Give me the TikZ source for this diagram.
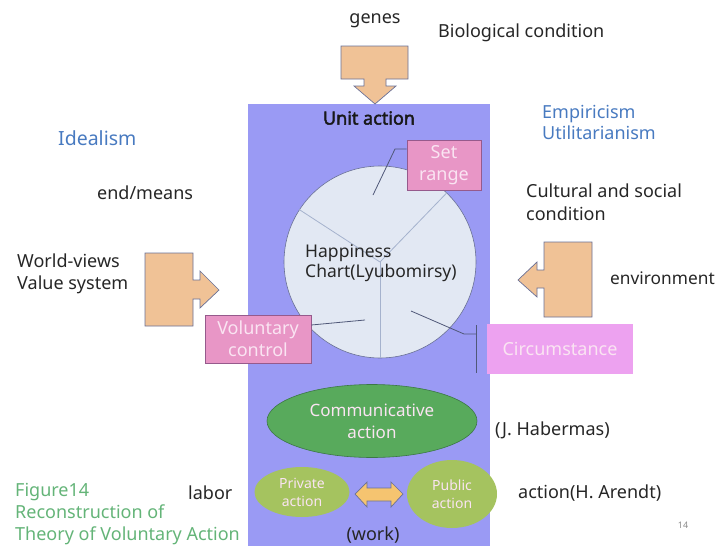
\documentclass[tikz,border=0pt]{standalone}
\usepackage{fontspec}
\setmainfont{Noto Sans}[AutoFakeBold=2.5]
\usetikzlibrary{shapes.geometric}
\definecolor{unitblue}{RGB}{154,154,244}
\definecolor{arrowtan}{RGB}{240,194,150}
\definecolor{arrowedge}{RGB}{105,112,150}
\definecolor{boxpink}{RGB}{232,150,198}
\definecolor{boxpinkedge}{RGB}{150,90,140}
\definecolor{violet}{RGB}{237,162,240}
\definecolor{lighttext}{RGB}{250,228,242}
\definecolor{chartfill}{RGB}{226,232,243}
\definecolor{chartline}{RGB}{165,178,205}
\definecolor{calloutline}{RGB}{80,88,120}
\definecolor{commgreen}{RGB}{88,170,92}
\definecolor{commedge}{RGB}{60,120,70}
\definecolor{olive}{RGB}{165,195,95}
\definecolor{swaparrow}{RGB}{245,196,112}
\definecolor{schoolblue}{RGB}{72,122,192}
\definecolor{figgreen}{RGB}{100,180,120}
\tikzset{
  label/.style={anchor=west, inner sep=0pt, text=black!85, font=\fontsize{18}{22}\selectfont, align=left},
  school/.style={label, text=schoolblue},
  bigarrow/.style={fill=arrowtan, draw=arrowedge, line width=0.7pt},
  pinkbox/.style={rectangle, fill=boxpink, draw=boxpinkedge, line width=0.6pt, text=lighttext, align=center, inner sep=0pt, font=\fontsize{18}{22}\selectfont},
  callout/.style={draw=calloutline, line width=0.8pt},
  divider/.style={draw=chartline, line width=0.8pt},
  smallell/.style={ellipse, fill=olive, inner sep=0pt, text=lighttext, align=center, font=\fontsize{14}{18}\selectfont}
}
\begin{document}
\begin{tikzpicture}[x=1pt, y=-1pt]
\useasboundingbox (0,0) rectangle (718,546);

% unit action frame
\fill[unitblue] (248,104) rectangle (490,546);
\node[font=\bfseries\fontsize{18}{22}\selectfont, inner sep=0pt, text=black!90] (unit) at (369,118) {Unit action};

% biological input from above
\draw[bigarrow] (341,46) -- (408,46) -- (408,79) -- (386,79) -- (386,86) -- (396,86)
  -- (375,104) -- (354,86) -- (364,86) -- (364,79) -- (341,79) -- cycle;
\node[inner sep=0pt, font=\fontsize{18}{22}\selectfont, text=black!85] (genes) at (375,21) {genes};
\node[label] (bio) at (438,33) {Biological condition};

% value-system input from the left
\draw[bigarrow] (145,253) -- (193,253) -- (193,280) -- (200,280) -- (200,271) -- (219,290)
  -- (200,308) -- (200,299) -- (193,299) -- (193,326) -- (145,326) -- cycle;

% environment input from the right
\draw[bigarrow] (592,242) -- (544,242) -- (544,270) -- (537,270) -- (537,262) -- (518,280)
  -- (537,297) -- (537,288) -- (544,288) -- (544,317) -- (592,317) -- cycle;

% happiness chart
\node[circle, minimum size=192pt, fill=chartfill, draw=arrowedge, line width=0.6pt] (chart) at (380,262) {};
\draw[divider] (chart.center) -- (chart.147);
\draw[divider] (chart.center) -- (chart.46);
\draw[divider] (chart.center) -- (chart.270);
\node[anchor=west, inner sep=0pt, align=left, text=black!85, font=\fontsize{17.5}{20}\selectfont] (happy) at (305,263) {Happiness\\Chart(Lyubomirsy)};

% pie segment labels
\node[pinkbox, minimum width=74pt, minimum height=50pt] (setrange) at (444,165) {Set\\range};
\node[pinkbox, minimum width=106pt, minimum height=48pt] (volctrl) at (258,339) {Voluntary\\control};
\node[rectangle, fill=violet, minimum width=146pt, minimum height=50pt, text=lighttext, inner sep=0pt, font=\fontsize{18}{22}\selectfont] (circ) at (560,349) {Circumstance};

\coordinate (sr-in) at (373,195);
\coordinate (sr-bend) at (395,149);
\draw[callout] (sr-in) -- (sr-bend) -- (setrange.west |- sr-bend);
\coordinate (vc-in) at (365,320);
\draw[callout] (vc-in) -- (volctrl.east |- 0,325);
\coordinate (ci-in) at (411,311);
\coordinate (ci-bend) at (464,334);
\coordinate (ci-bar) at (476,334);
\coordinate (ci-top) at (476,325);
\coordinate (ci-bot) at (476,373);
\draw[callout] (ci-in) -- (ci-bend) -- (ci-bar);
\draw[callout] (ci-top) -- (ci-bot);

% action types
\node[ellipse, minimum width=210pt, minimum height=73pt, fill=commgreen, draw=commedge, line width=0.6pt, text=lighttext, align=center, inner sep=0pt, font=\fontsize{17}{22}\selectfont] (comm) at (372,421) {Communicative\\action};
\node[smallell, minimum width=95pt, minimum height=50pt] (private) at (302,492) {Private\\action};
\node[smallell, minimum width=90pt, minimum height=68pt] (public) at (452,494) {Public\\action};
\draw[fill=swaparrow, draw=arrowedge, line width=0.7pt]
  (355,494) -- (367,482) -- (367,488) -- (391,488) -- (391,482) -- (403,494)
  -- (391,507) -- (391,501) -- (367,501) -- (367,507) -- cycle;
\node[inner sep=0pt, font=\fontsize{18}{22}\selectfont, text=black!85] (work) at (373,535) {(work)};

% surrounding texts
\node[school, font=\fontsize{19.5}{22}\selectfont] (ideal) at (58,138) {Idealism};
\node[school, font=\fontsize{18}{21}\selectfont] (empir) at (542,122) {Empiricism\\Utilitarianism};
\node[label] (endmeans) at (97,193) {end/means};
\node[label, font=\fontsize{18}{23}\selectfont] (cult) at (526,202) {Cultural and social\\condition};
\node[label, font=\fontsize{18}{22}\selectfont] (world) at (17,274) {World-views\\Value system};
\node[label, font=\fontsize{17.3}{22}\selectfont] (env) at (610,278) {environment};
\node[label] (haber) at (495,430) {(J. Habermas)};
\node[label] (labor) at (188,493) {labor};
\node[label] (arendt) at (518,493) {action(H. Arendt)};
\node[inner sep=0pt, text=black!45, font=\fontsize{9}{11}\selectfont] (pageno) at (683,525) {14};
\node[label, text=figgreen, font=\fontsize{18}{22}\selectfont] (fig) at (15,514) {Figure14\\Reconstruction of\\Theory of Voluntary Action};
\end{tikzpicture}
\end{document}
